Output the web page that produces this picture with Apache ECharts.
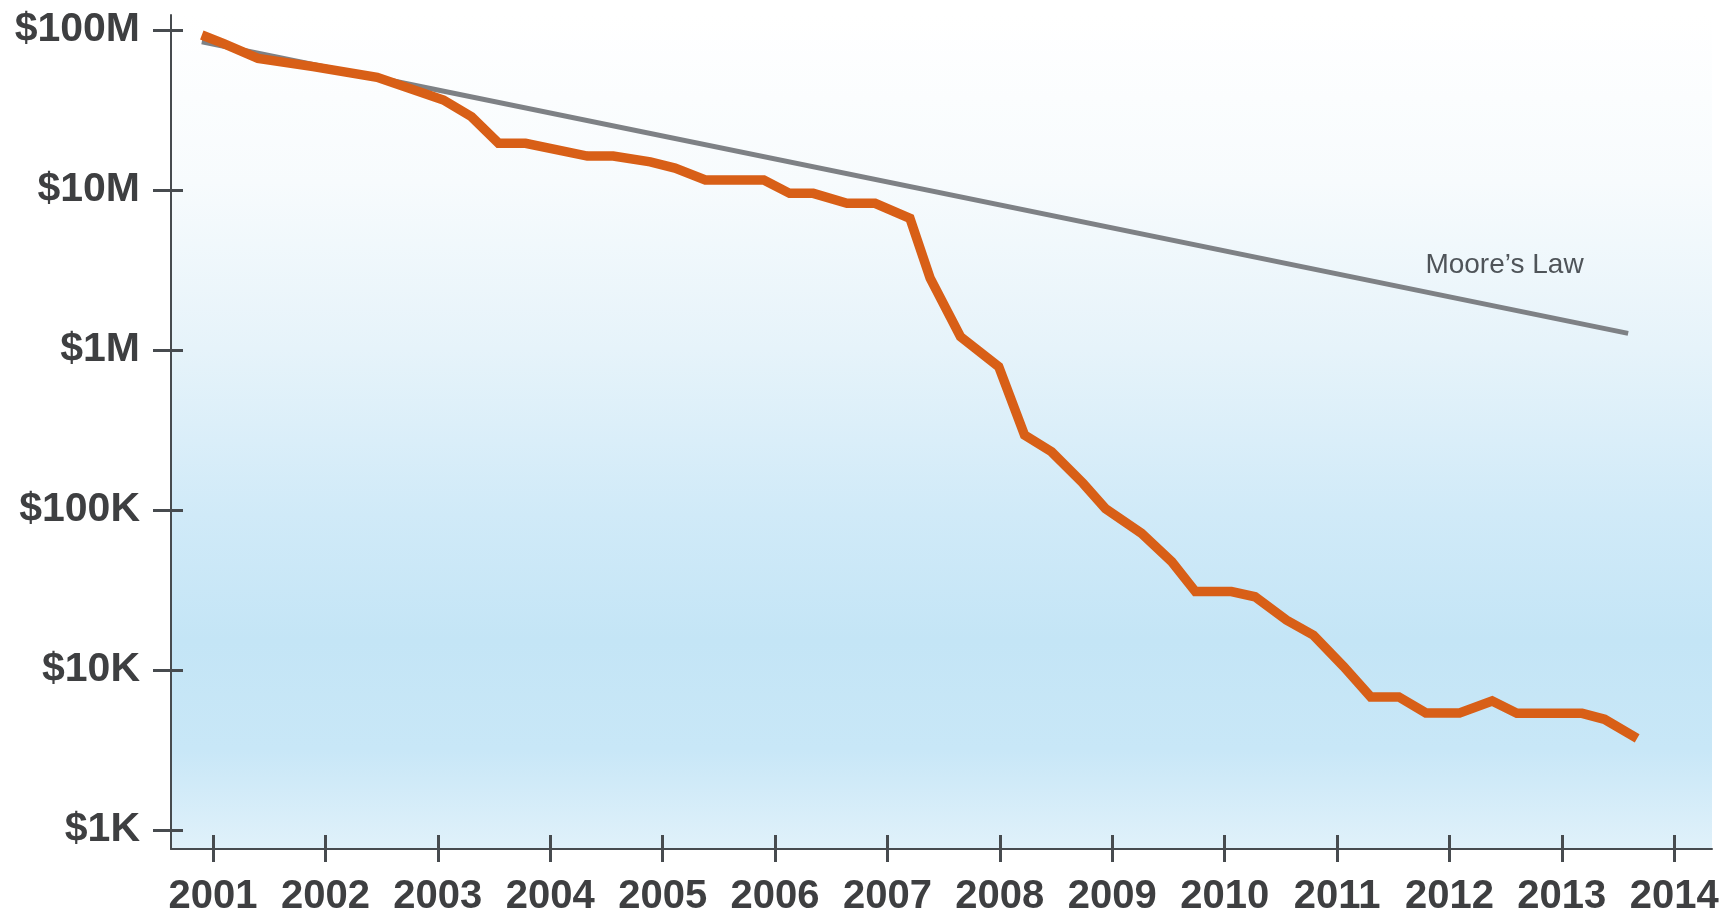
<!DOCTYPE html>
<html>
<head>
<meta charset="utf-8">
<title>Cost per genome vs Moore's Law</title>
<script src="https://cdn.jsdelivr.net/npm/echarts@6/dist/echarts.min.js"></script>
<style>
    html, body { margin: 0; padding: 0; background: #ffffff; }
    #chart { width: 1727px; height: 917px; }
</style>
</head>
<body>
<div id="chart"></div>
<script>
// 연도 눈금과 금액 눈금
const yearTicks = [2001, 2002, 2003, 2004, 2005, 2006, 2007, 2008, 2009, 2010, 2011, 2012, 2013, 2014];
const dollarTicks = [1e3, 1e4, 1e5, 1e6, 1e7, 1e8];
const dollarLabels = ['$1K', '$10K', '$100K', '$1M', '$10M', '$100M'];

// 게놈당 비용 (주황색 선)
const costYears = [2000.90, 2001.09, 2001.40, 2001.89, 2002.46, 2003.05, 2003.30, 2003.54, 2003.78, 2004.33,
    2004.56, 2004.89, 2005.11, 2005.38, 2005.90, 2006.13, 2006.34, 2006.64, 2006.89, 2007.20,
    2007.38, 2007.65, 2007.99, 2008.22, 2008.46, 2008.74, 2008.94, 2009.26, 2009.53, 2009.74,
    2010.06, 2010.27, 2010.55, 2010.79, 2011.06, 2011.30, 2011.55, 2011.79, 2012.09, 2012.38,
    2012.60, 2013.18, 2013.38, 2013.67];
const costValues = [93.1e6, 82.6e6, 66.5e6, 59.0e6, 50.6e6, 36.5e6, 28.7e6, 19.6e6, 19.6e6, 16.3e6,
    16.3e6, 15.0e6, 13.7e6, 11.55e6, 11.55e6, 9.53e6, 9.53e6, 8.26e6, 8.26e6, 6.65e6,
    2.81e6, 1.21e6, 787e3, 294e3, 231e3, 147e3, 102e3, 71.5e3, 47.5e3, 30.9e3,
    30.9e3, 28.7e3, 20.5e3, 16.5e3, 10.5e3, 6.78e3, 6.78e3, 5.39e3, 5.39e3, 6.40e3,
    5.36e3, 5.36e3, 4.92e3, 3.74e3];

// 무어의 법칙 (회색 직선)
const mooreYears = [2000.90, 2013.59];
const mooreValues = [84.5e6, 1.27e6];
const mooreLabel = 'Moore’s Law';
const mooreLabelAt = [2012.49, 3.4e6];

const X_MIN = 2000.626;
const X_MAX = 2014.336;

const FONT = '"Liberation Sans", Arial, Helvetica, sans-serif';
const AXIS_COLOR = '#474b4f';
const TEXT_COLOR = '#3e3f41';

const chart = echarts.init(document.getElementById('chart'), null, { renderer: 'canvas' });

const option = {
    animation: false,
    backgroundColor: '#ffffff',
    grid: [
        // 데이터 영역 ($1K ~ $100M)
        { left: 171, right: 15, top: 30, height: 800 },
        // 배경과 축선 영역
        {
            left: 171, right: 15, top: 15, bottom: 64,
            show: true, borderWidth: 0, z: 0,
            backgroundColor: new echarts.graphic.LinearGradient(0, 0, 0, 1, [
                { offset: 0, color: '#ffffff' },
                { offset: 0.2, color: '#f7fbfd' },
                { offset: 0.4, color: '#e6f3fa' },
                { offset: 0.6, color: '#d0eaf8' },
                { offset: 0.75, color: '#c4e5f6' },
                { offset: 0.88, color: '#c8e7f7' },
                { offset: 1, color: '#e0f1fa' }
            ])
        }
    ],
    xAxis: [
        { gridIndex: 0, type: 'value', min: X_MIN, max: X_MAX, show: false },
        {
            gridIndex: 1, type: 'value', min: X_MIN, max: X_MAX, position: 'bottom',
            axisLine: { show: true, lineStyle: { color: AXIS_COLOR, width: 2 } },
            axisTick: { show: true, inside: false, length: 13, customValues: yearTicks,
                lineStyle: { color: AXIS_COLOR, width: 3 } },
            axisLabel: { show: true, customValues: yearTicks, margin: 28,
                color: TEXT_COLOR, fontFamily: FONT, fontWeight: 'bold', fontSize: 40,
                formatter: v => String(Math.round(v)) },
            splitLine: { show: false }
        },
        {
            gridIndex: 1, type: 'value', min: X_MIN, max: X_MAX, position: 'bottom',
            axisLine: { show: false },
            axisTick: { show: true, inside: true, length: 14, customValues: yearTicks,
                lineStyle: { color: AXIS_COLOR, width: 3 } },
            axisLabel: { show: false },
            splitLine: { show: false }
        }
    ],
    yAxis: [
        {
            gridIndex: 0, type: 'log', logBase: 10, min: 1e3, max: 1e8, position: 'left',
            axisLine: { show: false },
            axisTick: { show: true, inside: false, length: 18, lineStyle: { color: AXIS_COLOR, width: 3 } },
            axisLabel: {
                show: true, margin: 31, color: TEXT_COLOR, fontFamily: FONT, fontWeight: 'bold', fontSize: 41,
                formatter: v => {
                    const i = dollarTicks.findIndex(t => Math.abs(Math.log10(t) - Math.log10(v)) < 1e-6);
                    return i >= 0 ? dollarLabels[i] : '';
                }
            },
            splitLine: { show: false }
        },
        {
            gridIndex: 0, type: 'log', logBase: 10, min: 1e3, max: 1e8, position: 'left',
            axisLine: { show: false },
            axisTick: { show: true, inside: true, length: 12, lineStyle: { color: AXIS_COLOR, width: 3 } },
            axisLabel: { show: false },
            splitLine: { show: false }
        },
        {
            gridIndex: 1, type: 'value', min: 0, max: 1, position: 'left',
            axisLine: { show: true, lineStyle: { color: AXIS_COLOR, width: 2 } },
            axisTick: { show: false },
            axisLabel: { show: false },
            splitLine: { show: false }
        }
    ],
    series: [
        {
            name: 'Moore’s Law',
            type: 'line',
            xAxisIndex: 0,
            yAxisIndex: 0,
            data: mooreYears.map((y, i) => [y, mooreValues[i]]),
            showSymbol: false,
            lineStyle: { color: '#7e8185', width: 5, cap: 'butt' },
            z: 3,
            markPoint: {
                symbol: 'rect',
                symbolSize: 2,
                itemStyle: { color: 'rgba(0,0,0,0)' },
                data: [{ coord: mooreLabelAt, value: mooreLabel }],
                label: {
                    show: true, position: 'inside', formatter: mooreLabel,
                    color: '#4f5459', fontFamily: FONT, fontSize: 28
                }
            }
        },
        {
            name: 'Cost per Genome',
            type: 'line',
            xAxisIndex: 0,
            yAxisIndex: 0,
            data: costYears.map((y, i) => [y, costValues[i]]),
            showSymbol: false,
            lineStyle: { color: '#d85f17', width: 9.5, cap: 'butt', join: 'miter' },
            z: 4
        }
    ]
};

chart.setOption(option);
</script>
</body>
</html>
